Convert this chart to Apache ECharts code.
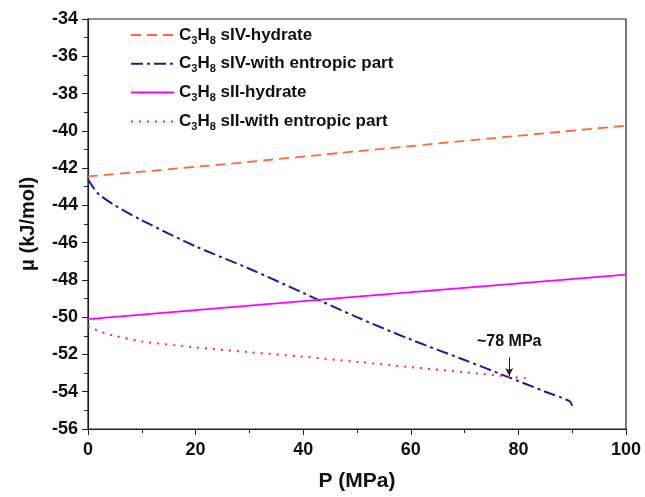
<!DOCTYPE html>
<html>
<head>
<meta charset="utf-8">
<script src="https://cdn.jsdelivr.net/npm/echarts@6/dist/echarts.min.js"></script>
<style>
  html, body { margin: 0; padding: 0; background: #fff; }
  #chart { width: 645px; height: 497px; }
</style>
</head>
<body>
<div id="chart"></div>
<script>
  // series names (C3H8 with subscripts drawn via rich text)
  const seriesNames = ['sIV-hydrate', 'sIV-with entropic part', 'sII-hydrate', 'sII-with entropic part'];

  // [P (MPa), mu (kJ/mol)]
  const sIVHydrate = [[0, -42.45], [25, -41.8], [50, -41.1], [75, -40.4], [100, -39.72]];
  const sIVEntropic = [[0, -42.6], [1, -43.05], [2, -43.4], [5, -44.0], [10, -44.8], [20, -46.2],
    [30, -47.4], [40, -48.7], [50, -50.0], [60, -51.2], [70, -52.3], [78, -53.2], [85, -54.0], [89.5, -54.5], [90, -54.75]];
  const sIIHydrate = [[0, -50.1], [50, -48.9], [100, -47.72]];
  const sIIEntropic = [[0, -50.45], [2, -50.75], [5, -51.0], [10, -51.3], [20, -51.62], [30, -51.88],
    [40, -52.12], [50, -52.4], [60, -52.68], [70, -52.95], [78, -53.18], [82, -53.3]];

  // annotation: arrow pointing at the crossing near 78 MPa
  const crossP = 78.3;
  const arrowFrom = -52.15;
  const arrowTo = -53.15;

  const colors = ['#ff6a3d', '#1c1c99', '#ff00ff', '#ff2a2a'];
  const font = 'Liberation Sans, Arial, sans-serif';

  const chart = echarts.init(document.getElementById('chart'));

  function nameRich(n) {
    return '{n|C}{s|3}{n|H}{s|8}{n| ' + n + '}';
  }

  chart.setOption({
    animation: false,
    color: colors,
    grid: { left: 88, top: 19, right: 19, bottom: 67, show: true, borderColor: '#222', borderWidth: 1.2 },
    legend: {
      orient: 'vertical',
      left: 125,
      top: 19,
      itemGap: 6.8,
      itemWidth: 43,
      itemHeight: 14,
      data: seriesNames,
      formatter: nameRich,
      itemStyle: { opacity: 0 },
      textStyle: {
        rich: {
          n: { fontFamily: font, fontWeight: 'bold', fontSize: 17, color: '#111', lineHeight: 22 },
          s: { fontFamily: font, fontWeight: 'bold', fontSize: 11, color: '#111', lineHeight: 22, padding: [11, 0, 0, 0] }
        }
      }
    },
    xAxis: {
      type: 'value',
      min: 0, max: 100, interval: 20,
      name: 'P (MPa)',
      nameLocation: 'middle',
      nameGap: 42,
      nameTextStyle: { fontFamily: font, fontWeight: 'bold', fontSize: 21, color: '#111' },
      axisLine: { lineStyle: { color: '#222', width: 1.2 } },
      axisTick: { show: true, inside: false, length: 6, lineStyle: { color: '#222' } },
      minorTick: { show: true, splitNumber: 2, length: 4, lineStyle: { color: '#222' } },
      axisLabel: { fontFamily: font, fontWeight: 'bold', fontSize: 18, color: '#111', margin: 12 },
      splitLine: { show: false }
    },
    yAxis: {
      type: 'value',
      min: -56, max: -34, interval: 2,
      name: 'μ (kJ/mol)',
      nameLocation: 'middle',
      nameGap: 50,
      nameTextStyle: { fontFamily: font, fontWeight: 'bold', fontSize: 20, color: '#111' },
      axisLine: { show: true, lineStyle: { color: '#222', width: 1.2 } },
      axisTick: { show: true, inside: false, length: 6, lineStyle: { color: '#222' } },
      minorTick: { show: true, splitNumber: 2, length: 4, lineStyle: { color: '#222' } },
      axisLabel: { fontFamily: font, fontWeight: 'bold', fontSize: 18, color: '#111', margin: 10 },
      splitLine: { show: false }
    },
    series: [
      {
        name: seriesNames[0], type: 'line', data: sIVHydrate, smooth: 0.3, showSymbol: false, symbol: 'none',
        lineStyle: { color: colors[0], width: 1.8, type: [10, 6] }
      },
      {
        name: seriesNames[1], type: 'line', data: sIVEntropic, smooth: 0.3, showSymbol: false, symbol: 'none',
        lineStyle: { color: colors[1], width: 2, type: [12, 4, 3, 4] },
        markLine: {
          silent: true,
          symbol: ['none', 'arrow'],
          symbolSize: [6, 8],
          lineStyle: { color: '#222', width: 1, type: 'solid' },
          label: {
            show: true, position: 'start', distance: 8, formatter: '~78 MPa',
            fontFamily: font, fontWeight: 'bold', fontSize: 16, color: '#111'
          },
          data: [[{ coord: [crossP, arrowFrom] }, { coord: [crossP, arrowTo] }]]
        }
      },
      {
        name: seriesNames[2], type: 'line', data: sIIHydrate, showSymbol: false, symbol: 'none',
        lineStyle: { color: colors[2], width: 1.8, type: 'solid' }
      },
      {
        name: seriesNames[3], type: 'line', data: sIIEntropic, smooth: 0.3, showSymbol: false, symbol: 'none',
        lineStyle: { color: colors[3], width: 2, type: [2, 6] }
      }
    ]
  });
</script>
</body>
</html>
